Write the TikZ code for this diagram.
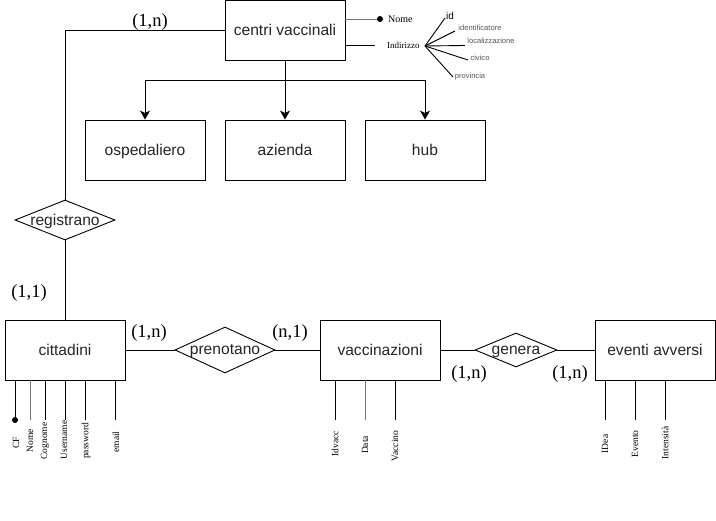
\documentclass[tikz,border=0pt]{standalone}
\usepackage{fontspec}
\setmainfont{Liberation Serif}
\setsansfont{Liberation Sans}
\usetikzlibrary{shapes.geometric,arrows.meta}
\tikzset{
  ent/.style={draw, line width=0.9pt, minimum width=120pt, minimum height=60pt, inner sep=0pt,
    text height=12pt, text depth=0pt,
    font=\sffamily\fontsize{15.6}{18}\selectfont, text=black!85},
  reldia/.style={draw, line width=0.9pt, diamond, inner sep=0pt},
  rellab/.style={font=\sffamily\fontsize{15.6}{18}\selectfont, text=black!85, yshift=-1.5pt},
  card/.style={font=\fontsize{18.5}{20}\selectfont, inner sep=0pt},
  ln/.style={line width=0.9pt},
  gln/.style={line width=0.9pt, draw=black!55},
  arr/.style={line width=0.9pt, -{Stealth[length=9pt,width=10pt,inset=2.5pt]}},
  attr/.style={font=\fontsize{9.5}{11}\selectfont, inner sep=0pt, rotate=90},
  sub/.style={font=\sffamily\fontsize{7.6}{9}\selectfont, text=black!65, inner sep=0pt},
}
\begin{document}
\begin{tikzpicture}[x=1pt,y=-1pt]
\useasboundingbox (0,0) rectangle (716,521);
\fill[white] (0,0) rectangle (716,521);

% entities
\node[ent] (cv)  at (285,30)  {centri vaccinali};
\node[ent] (osp) at (145,150) {ospedaliero};
\node[ent] (az)  at (285,150) {azienda};
\node[ent] (hub) at (425,150) {hub};
\node[ent] (cit) at (65,350)  {cittadini};
\node[ent] (vac) at (380,350) {vaccinazioni};
\node[ent] (ev)  at (655,350) {eventi avversi};

% relationships
\node[reldia, minimum width=100pt, minimum height=40pt] (reg) at (65,220) {};
\node[rellab] (regl) at (reg) {registrano};
\node[reldia, minimum width=100pt, minimum height=46pt] (pren) at (225,350) {};
\node[rellab] (prenl) at (pren) {prenotano};
\node[reldia, minimum width=82pt, minimum height=34pt] (gen) at (516,350) {};
\node[rellab] (genl) at (gen) {genera};

% hierarchy
\coordinate (j) at (285,80);
\draw[ln] (cv.south) -- (j);
\draw[arr] (j) -- (az.north);
\draw[arr] (j) -| (osp.north);
\draw[arr] (j) -| (hub.north);

% links
\draw[ln] (cv.west) -| (reg.north);
\draw[ln] (reg.south) -- (cit.north);
\draw[ln] (cit.east) -- (pren.west);
\draw[ln] (pren.east) -- (vac.west);
\draw[ln] (vac.east) -- (gen.west);
\draw[ln] (gen.east) -- (ev.west);

% cardinalities
\node[card] (c1) at (150,22) {(1,n)};
\node[card] (c2) at (29,293) {(1,1)};
\node[card] (c3) at (149,333) {(1,n)};
\node[card] (c4) at (290,333) {(n,1)};
\node[card] (c5) at (469,374) {(1,n)};
\node[card] (c6) at (570,374) {(1,n)};

% centri vaccinali attributes
\coordinate (dNome) at (380,19);
\draw[gln] (dNome -| cv.east) -- (dNome);
\fill (dNome) circle (3pt);
\node[font=\fontsize{10}{12}\selectfont, anchor=west, inner sep=0pt] (tNome) at (388,19) {Nome};
\coordinate (eInd) at (375,45);
\draw[ln] (eInd -| cv.east) -- (eInd);
\node[font=\fontsize{9}{11}\selectfont, anchor=west, inner sep=0pt] (tInd) at (387,45) {Indirizzo};
\coordinate (fan) at (425,46);
\coordinate (fid) at (445,18);
\coordinate (fide) at (455,31);
\coordinate (floc) at (465,45.5);
\coordinate (fciv) at (468,60);
\coordinate (fprov) at (453,77);
\draw[ln] (fan) -- (fid);
\draw[ln] (fan) -- (fide);
\draw[ln] (fan) -- (floc);
\draw[ln] (fan) -- (fciv);
\draw[ln] (fan) -- (fprov);
\node[font=\sffamily\fontsize{10}{12}\selectfont, inner sep=0pt] (tid) at (450,16) {id};
\node[sub] (tide) at (480,28) {identificatore};
\node[sub] (tloc) at (491,41) {localizzazione};
\node[sub] (tciv) at (480,58) {civico};
\node[sub] (tprov) at (470,77) {provincia};

% cittadini attributes
\coordinate (aCF) at (15,420);
\coordinate (aNome) at (30,420);
\coordinate (aCog) at (45,420);
\coordinate (aUser) at (65,420);
\coordinate (aPass) at (85,420);
\coordinate (aMail) at (115,420);
\draw[ln] (aCF |- cit.south) -- (aCF);
\fill (aCF) circle (3pt);
\draw[gln] (aNome |- cit.south) -- (aNome);
\draw[ln] (aCog |- cit.south) -- (aCog);
\draw[ln] (aUser |- cit.south) -- (aUser);
\draw[ln] (aPass |- cit.south) -- (aPass);
\draw[ln] (aMail |- cit.south) -- (aMail);
\node[attr] (lCF) at (16,443) {CF};
\node[attr] (lNome) at (30,441) {Nome};
\node[attr] (lCog) at (45,441) {Cognome};
\node[attr] (lUser) at (64,440) {Username};
\node[attr] (lPass) at (86,441) {password};
\node[attr] (lMail) at (116,442) {email};

% vaccinazioni attributes
\coordinate (vId) at (335,420);
\coordinate (vData) at (365,420);
\coordinate (vVac) at (395,420);
\draw[ln] (vId |- vac.south) -- (vId);
\draw[gln] (vData |- vac.south) -- (vData);
\draw[ln] (vVac |- vac.south) -- (vVac);
\node[attr] (lId) at (335,444) {Idvacc};
\node[attr] (lData) at (365,445) {Data};
\node[attr] (lVac) at (395,446) {Vaccino};

% eventi avversi attributes
\coordinate (eId) at (605,420);
\coordinate (eEv) at (635,420);
\coordinate (eInt) at (665,420);
\draw[ln] (eId |- ev.south) -- (eId);
\draw[ln] (eEv |- ev.south) -- (eEv);
\draw[ln] (eInt |- ev.south) -- (eInt);
\node[attr] (lIDea) at (605,444) {IDea};
\node[attr] (lEv) at (635,444) {Evento};
\node[attr] (lInt) at (665,443) {Intensità};
\end{tikzpicture}
\end{document}
